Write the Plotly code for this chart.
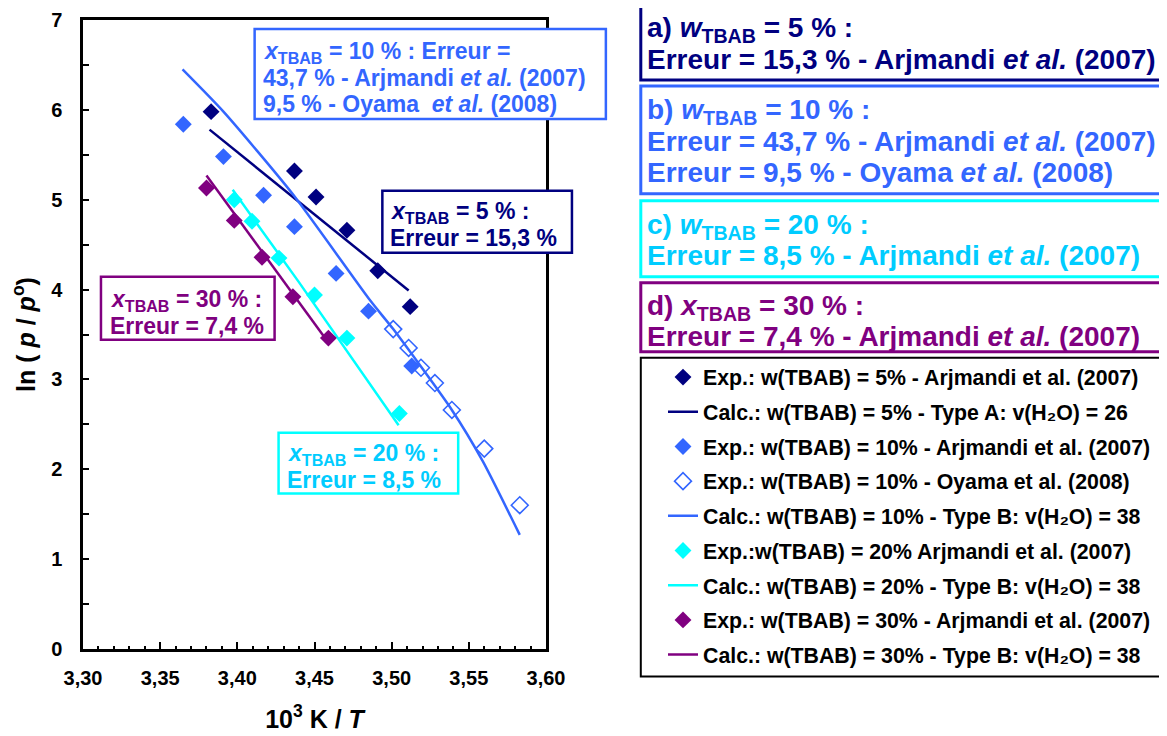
import plotly.graph_objects as go

# ---------------- data ----------------
x5_exp = [3.383, 3.437, 3.451, 3.471, 3.491, 3.512]
y5_exp = [5.98, 5.32, 5.03, 4.66, 4.21, 3.81]
x5_calc = [3.382, 3.511]
y5_calc = [5.78, 3.99]

x10_arj = [3.365, 3.391, 3.417, 3.437, 3.464, 3.485, 3.513]
y10_arj = [5.84, 5.48, 5.05, 4.70, 4.18, 3.76, 3.15]
x10_oya = [3.501, 3.511, 3.519, 3.528, 3.539, 3.560, 3.583]
y10_oya = [3.56, 3.35, 3.13, 2.96, 2.66, 2.23, 1.60]
x10_calc = [3.3645, 3.391, 3.436, 3.486, 3.501, 3.539, 3.559, 3.583]
y10_calc = [6.45, 5.98, 5.06, 3.88, 3.56, 2.66, 2.09, 1.27]

x20_exp = [3.398, 3.4095, 3.427, 3.450, 3.471, 3.505]
y20_exp = [5.00, 4.76, 4.35, 3.94, 3.46, 2.62]
x20_calc = [3.397, 3.440, 3.5045]
y20_calc = [5.11, 4.08, 2.49]

x30_exp = [3.380, 3.398, 3.416, 3.436, 3.459]
y30_exp = [5.13, 4.77, 4.36, 3.92, 3.46]
x30_calc = [3.380, 3.456]
y30_calc = [5.27, 3.48]

names = [
    "Exp.: w(TBAB) = 5% - Arjmandi et al. (2007)",
    "Calc.: w(TBAB) = 5% - Type A: v(H₂O) = 26",
    "Exp.: w(TBAB) = 10% - Arjmandi et al. (2007)",
    "Exp.: w(TBAB) = 10% - Oyama et al. (2008)",
    "Calc.: w(TBAB) = 10% - Type B: v(H₂O) = 38",
    "Exp.:w(TBAB) = 20% Arjmandi et al. (2007)",
    "Calc.: w(TBAB) = 20% - Type B: v(H₂O) = 38",
    "Exp.: w(TBAB) = 30% - Arjmandi et al. (2007)",
    "Calc.: w(TBAB) = 30% - Type B: v(H₂O) = 38",
]

x_ticks = [3.30, 3.35, 3.40, 3.45, 3.50, 3.55, 3.60]
y_ticks = [0, 1, 2, 3, 4, 5, 6, 7]

NAVY = "#000080"
BLUE = "#3366FF"
CYAN = "#00FFFF"
CYAN_TXT = "#00CCFF"
PURPLE = "#800080"
FONT = "Liberation Sans, Arial, sans-serif"

# ---------------- layout geometry (reference page pixels) ----------------
OFF = 8  # default page body margin
W, H = 1167, 736
L, R, T, B = 83, 547, 20, 649.5


def px(xp):
    return (xp - L) / (R - L)


def py(yp):
    return (B - yp) / (B - T)


fig = go.Figure()

mk = dict(symbol="diamond", size=13)
fig.add_trace(go.Scatter(x=x5_exp, y=y5_exp, mode="markers", name=names[0],
                         marker=dict(color=NAVY, **mk), legendgroup="g0"))
fig.add_trace(go.Scatter(x=x5_calc, y=y5_calc, mode="lines", name=names[1],
                         line=dict(color=NAVY, width=2.5), legendgroup="g1"))
fig.add_trace(go.Scatter(x=x10_arj, y=y10_arj, mode="markers", name=names[2],
                         marker=dict(color=BLUE, **mk), legendgroup="g2"))
fig.add_trace(go.Scatter(x=x10_oya, y=y10_oya, mode="markers", name=names[3],
                         marker=dict(color=BLUE, symbol="diamond-open", size=13,
                                     line=dict(width=1.6)), legendgroup="g3"))
fig.add_trace(go.Scatter(x=x10_calc, y=y10_calc, mode="lines", name=names[4],
                         line=dict(color=BLUE, width=2.5, shape="spline", smoothing=0.6),
                         legendgroup="g4"))
fig.add_trace(go.Scatter(x=x20_exp, y=y20_exp, mode="markers", name=names[5],
                         marker=dict(color=CYAN, **mk), legendgroup="g5"))
fig.add_trace(go.Scatter(x=x20_calc, y=y20_calc, mode="lines", name=names[6],
                         line=dict(color=CYAN, width=2.5), legendgroup="g6"))
fig.add_trace(go.Scatter(x=x30_exp, y=y30_exp, mode="markers", name=names[7],
                         marker=dict(color=PURPLE, **mk), legendgroup="g7"))
fig.add_trace(go.Scatter(x=x30_calc, y=y30_calc, mode="lines", name=names[8],
                         line=dict(color=PURPLE, width=2.5), legendgroup="g8"))

shapes = []
annotations = []


def box(x0, y0, x1, y1, color, width=2.5):
    shapes.append(dict(type="rect", xref="paper", yref="paper",
                       x0=px(x0), x1=px(x1), y0=py(y1), y1=py(y0),
                       line=dict(color=color, width=width), fillcolor="white",
                       layer="above"))


def text(x, y, s, color, size):
    annotations.append(dict(x=px(x), y=py(y), xref="paper", yref="paper",
                            text="<b>" + s + "</b>", showarrow=False,
                            xanchor="left", yanchor="middle",
                            font=dict(family=FONT, size=size, color=color)))


XT = "<i>x</i><sub>TBAB</sub>"
WT = "<i>w</i><sub>TBAB</sub>"
ETAL = "<i>et al.</i>"

S_IN = 23
S_OUT = 28

# in-plot boxes
box(255, 29, 607, 119, BLUE)
text(261, 53, XT + " = 10 % : Erreur =", BLUE, S_IN)
text(261, 78, "43,7 % - Arjmandi " + ETAL + " (2007)", BLUE, S_IN)
text(261, 104, "9,5 % - Oyama  " + ETAL + " (2008)", BLUE, S_IN)

box(383, 191, 573, 253, NAVY)
text(389, 213, XT + " = 5 % :", NAVY, S_IN)
text(389, 238, "Erreur = 15,3 %", NAVY, S_IN)

box(101, 277, 275, 340, PURPLE)
text(108, 301, XT + " = 30 % :", PURPLE, S_IN)
text(108, 326, "Erreur = 7,4 %", PURPLE, S_IN)

box(279, 433, 459, 494, CYAN)
text(285, 455, XT + " = 20 % :", CYAN_TXT, S_IN)
text(285, 480, "Erreur = 8,5 %", CYAN_TXT, S_IN)

# right-side boxes
RX0, RX1 = 642, 1165
box(RX0, 4, RX1, 80, NAVY, 3)
text(646, 30, "a) " + WT + " = 5 % :", NAVY, S_OUT)
text(646, 60, "Erreur = 15,3 % - Arjmandi " + ETAL + " (2007)", NAVY, S_OUT)

box(RX0, 86, RX1, 194, BLUE, 3)
text(646, 112, "b) " + WT + " = 10 % :", BLUE, S_OUT)
text(646, 142, "Erreur = 43,7 % - Arjmandi " + ETAL + " (2007)", BLUE, S_OUT)
text(646, 173, "Erreur = 9,5 % - Oyama " + ETAL + " (2008)", BLUE, S_OUT)

box(RX0, 201, RX1, 277, CYAN, 3)
text(646, 227, "c) " + WT + " = 20 % :", CYAN_TXT, S_OUT)
text(646, 256, "Erreur = 8,5 % - Arjmandi " + ETAL + " (2007)", CYAN_TXT, S_OUT)

box(RX0, 283, RX1, 352, PURPLE, 3)
text(646, 308, "d) " + XT + " = 30 % :", PURPLE, S_OUT)
text(646, 337, "Erreur = 7,4 % - Arjmandi " + ETAL + " (2007)", PURPLE, S_OUT)

# legend frame
box(RX0, 358, RX1, 677, "black", 2)

fig.update_layout(
    width=W - OFF, height=H - OFF,
    margin=dict(l=L - OFF, r=W - R, t=T - OFF, b=H - B, pad=0),
    paper_bgcolor="white", plot_bgcolor="white",
    separators=", ",
    font=dict(family=FONT, color="black"),
    shapes=shapes, annotations=annotations,
    showlegend=True,
    legend=dict(x=px(663), y=py(357), xanchor="left", yanchor="top",
                bgcolor="rgba(0,0,0,0)", borderwidth=0,
                font=dict(family=FONT, size=21.3, color="black", weight="bold"),
                tracegroupgap=4, traceorder="grouped", itemwidth=30),
    xaxis=dict(range=[3.30, 3.60], tickvals=x_ticks, tickformat=".2f",
               showgrid=False, zeroline=False,
               showline=True, linecolor="black", linewidth=2.5, mirror=True,
               ticks="inside", ticklen=7, tickwidth=2, tickcolor="black",
               minor=dict(dtick=0.01, ticks="inside", ticklen=3, tickwidth=2, tickcolor="black"),
               tickfont=dict(family=FONT, size=20, color="black", weight="bold"),
               ticklabelstandoff=9,
               title=dict(text="<b>10<sup>3</sup> K / <i>T</i></b>", standoff=23,
                          font=dict(family=FONT, size=25, color="black")),
               automargin=False),
    yaxis=dict(range=[0, 7], tickvals=y_ticks,
               showgrid=False, zeroline=False,
               showline=True, linecolor="black", linewidth=2.5, mirror=True,
               ticks="inside", ticklen=6, tickwidth=2, tickcolor="black",
               minor=dict(dtick=0.5, ticks="inside", ticklen=6, tickwidth=2, tickcolor="black"),
               tickfont=dict(family=FONT, size=20, color="black", weight="bold"),
               ticklabelstandoff=14,
               title=dict(text="<b>ln ( <i>p</i> / <i>p</i><sup>o</sup>)</b>", standoff=9,
                          font=dict(family=FONT, size=25, color="black")),
               automargin=False),
)

fig.write_html("out.html")
